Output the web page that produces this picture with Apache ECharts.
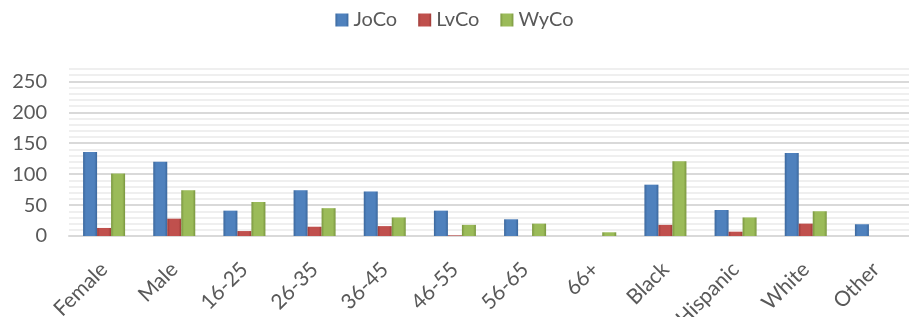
<!DOCTYPE html>
<html>
<head>
<meta charset="utf-8">
<script src="https://cdn.jsdelivr.net/npm/echarts@6/dist/echarts.min.js"></script>
<style>
html,body{margin:0;padding:0;background:#fff;}
#chart{width:909px;height:317px;}
</style>
</head>
<body>
<div id="chart"></div>
<script>
const categories = ['Female','Male','16-25','26-35','36-45','46-55','56-65','66+','Black','Hispanic','White','Other'];
const joco = [136, 120, 41, 74, 72, 41, 27, 0, 83, 42, 134, 19];
const lvco = [13, 28, 8, 15, 16, 1, 0, 0, 18, 7, 20, 0];
const wyco = [101, 74, 55, 45, 30, 18, 20, 6, 121, 30, 40, 0];
const yTicks = [0, 50, 100, 150, 200, 250];

function bevel(edge, mid) {
  return new echarts.graphic.LinearGradient(0, 0, 1, 0, [
    {offset: 0, color: edge},
    {offset: 0.2, color: mid},
    {offset: 0.8, color: mid},
    {offset: 1, color: edge}
  ]);
}

const chart = echarts.init(document.getElementById('chart'), null, {renderer: 'canvas'});
const font = 'Lato, "Open Sans", sans-serif';
chart.setOption({
  animation: false,
  textStyle: {fontFamily: font},
  legend: {
    top: 5,
    left: 'center',
    icon: 'rect',
    itemWidth: 13,
    itemHeight: 13,
    itemGap: 21,
    textStyle: {fontSize: 20, color: '#595959', fontFamily: font},
    data: ['JoCo', 'LvCo', 'WyCo']
  },
  grid: {left: 69, top: 69, width: 842, bottom: 81, containLabel: false, outerBoundsMode: 'none'},
  xAxis: {
    type: 'category',
    data: categories,
    axisLine: {lineStyle: {color: '#d9d9d9', width: 2}},
    axisTick: {show: false},
    axisLabel: {rotate: 45, fontSize: 21, color: '#595959', margin: 30, fontFamily: font, interval: 0}
  },
  yAxis: {
    type: 'value',
    min: 0,
    max: 270,
    interval: 10,
    axisLine: {show: false},
    axisTick: {show: false},
    axisLabel: {
      fontSize: 20, color: '#595959', margin: 22, fontFamily: font,
      formatter: v => yTicks.includes(v) ? String(v) : ''
    },
    splitLine: {lineStyle: {color: ['#d9d9d9', '#efefef', '#efefef', '#efefef', '#efefef'], width: 2}}
  },
  series: [
    {name: 'JoCo', type: 'bar', data: joco, barWidth: 14, barGap: '0%',
     itemStyle: {color: bevel('#3b679c', '#4f81bd')}},
    {name: 'LvCo', type: 'bar', data: lvco, barWidth: 14, barGap: '0%',
     itemStyle: {color: bevel('#9e3b38', '#c0504d')}},
    {name: 'WyCo', type: 'bar', data: wyco, barWidth: 14, barGap: '0%',
     itemStyle: {color: bevel('#7a963f', '#9bbb59')}}
  ]
});
</script>
</body>
</html>
